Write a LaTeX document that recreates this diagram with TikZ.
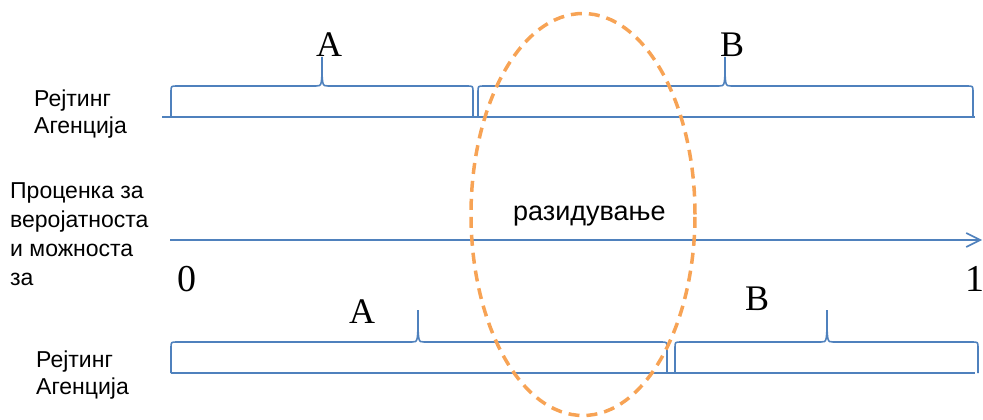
\documentclass[tikz,border=0pt]{standalone}
\usepackage{fontspec}
\setmainfont{Liberation Serif}
\newfontfamily\arialf{Liberation Sans}
\usetikzlibrary{arrows.meta}
\definecolor{bbl}{RGB}{79,129,189}
\definecolor{orl}{RGB}{247,163,85}
\newcommand{\drawbrace}[6]{%
  \draw[bline] (#1,#4) -- (#1,#5+6) .. controls (#1,#5) .. (#1+6,#5)
    -- (#3-6,#5) .. controls (#3,#5) .. (#3,#6)
    .. controls (#3,#5) .. (#3+6,#5)
    -- (#2-6,#5) .. controls (#2,#5) .. (#2,#5+6) -- (#2,#4);}
\begin{document}
\begin{tikzpicture}[x=1pt,y=-1pt,
  bline/.style={draw=bbl,line width=1.6pt},
  sanslab/.style={font=\arialf\fontsize{23}{27}\selectfont,inner sep=0pt,anchor=base west,align=left},
  serlab/.style={font=\fontsize{36}{40}\selectfont,inner sep=0pt,anchor=base},
  numlab/.style={font=\fontsize{38}{42}\selectfont,inner sep=0pt,anchor=base},
  ell/.style={draw=orl,line width=3.5pt,dash pattern=on 11pt off 7pt}]
\useasboundingbox (0,0) rectangle (983,420);
% top rating
\draw[bline] (162,117) coordinate (tl) -- (975,117) coordinate (tr);
\drawbrace{171}{473}{322}{117}{86}{57}
\drawbrace{478}{973}{725}{117}{86}{57}
\node[serlab] (tA) at (329,57) {A};
\node[serlab] (tB) at (732,57) {B};
\node[sanslab] (tlab) at (34,133) {Рејтинг\\Агенција};
% axis
\coordinate (ax0) at (170,240);
\coordinate (ax1) at (982,240);
\draw[bbl,line width=1.6pt,-{Straight Barb[length=14pt,width=14pt,line width=1.6pt]}] (ax0) -- (ax1);
\node[numlab] (n0) at (187,291) {0};
\node[numlab] (n1) at (975,291) {1};
\node[font=\arialf\fontsize{23}{29}\selectfont,inner sep=0pt,anchor=base west,align=left] (ltxt) at (10,285) {Проценка за\\веројатноста\\и можноста\\за};
\node[font=\arialf\fontsize{27}{32}\selectfont,inner sep=0pt,anchor=base west] (raz) at (513,220) {разидување};
% bottom rating
\draw[bline] (171,373) coordinate (bl) -- (975,373) coordinate (br);
\drawbrace{171}{667}{418}{373}{342}{310}
\drawbrace{675}{978}{827}{373}{342}{310}
\node[serlab] (bA) at (362,323) {A};
\node[serlab] (bB) at (757,310) {B};
\node[sanslab] (blab) at (36,394) {Рејтинг\\Агенција};
% ellipse
\draw[ell] (583,214.5) ellipse [x radius=112pt, y radius=201pt];
\end{tikzpicture}
\end{document}
